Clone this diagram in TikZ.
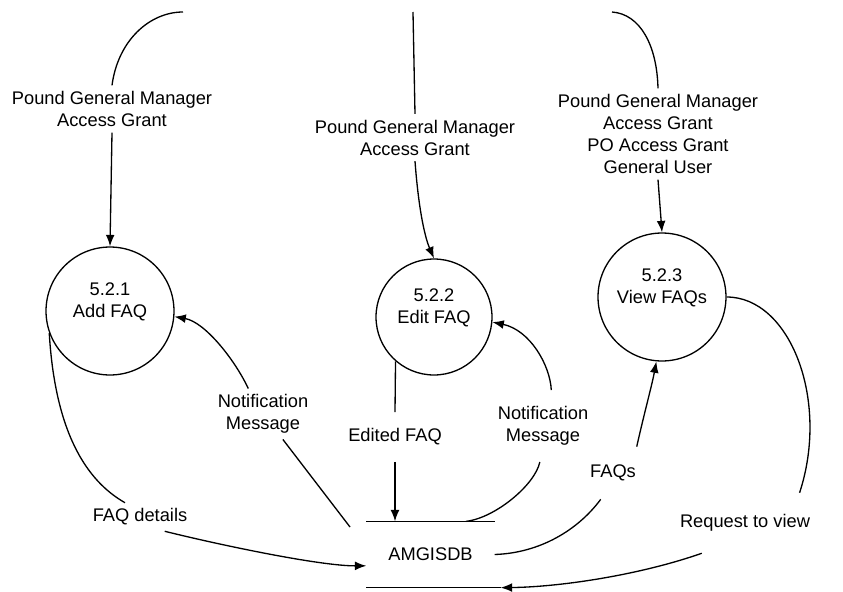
\documentclass[tikz,border=0pt]{standalone}
\usepackage{fontspec}
\setmainfont{Liberation Sans}
\usepackage{tikz}
\usetikzlibrary{arrows.meta}

\begin{document}
\begin{tikzpicture}
  [x=0.02cm,y=-0.02cm,
   line width=0.75pt,
   >={Latex[length=6.5pt,width=5pt]},
   every node/.style={font=\fontsize{10.4pt}{12.5pt}\selectfont},
   process/.style={circle,
                   draw=black,
                   inner sep=0pt,
                   align=center},
   flow/.style={align=center,
                inner sep=3pt},
   store/.style={rectangle,
                 minimum width=2.54cm,
                 minimum height=1.3cm,
                 inner sep=0pt}]
  \useasboundingbox (0,0) rectangle (843,592);

  % processes and data store
  \node[process,minimum size=2.56cm] (p1) at (110,311) {5.2.1\\Add FAQ\\~};
  \node[process,minimum size=2.32cm] (p2) at (434,317) {5.2.2\\Edit FAQ\\~};
  \node[process,minimum size=2.56cm] (p3) at (662,297) {5.2.3\\View FAQs\\~};
  \node[store] (db) at (430.5,554.5) {AMGISDB};
  \draw (db.north west) -- (db.north east);
  \draw (db.south west) -- ([xshift=0.12cm]db.south east);

  % flow labels
  \node[flow] (l1) at (112,109) {Pound General Manager\\Access Grant};
  \node[flow] (l2) at (415,137.5) {Pound General Manager\\Access Grant};
  \node[flow] (l3) at (658,134) {Pound General Manager\\Access Grant\\PO Access Grant\\General User};
  \node[flow] (lfd) at (140,517) {FAQ details};
  \node[flow] (ln1) at (263,414) {Notification\\Message};
  \node[flow,inner sep=9pt] (led) at (395,437) {Edited FAQ};
  \node[flow,inner sep=9pt] (ln2) at (543,426) {Notification\\Message};
  \node[flow,inner sep=10pt] (lfq) at (613,473) {FAQs};
  \node[flow,inner sep=12pt] (lrv) at (745,523) {Request to view};

  % free ends
  \coordinate (in1) at (183,12);
  \coordinate (in2) at (413,12);
  \coordinate (in3) at (612,12);
  \coordinate (n1end) at (350,527);

  % incoming grants
  \draw (in1) .. controls (150,12) and (118,40) .. (l1.north);
  \draw[->] (l1.south) -- (p1.north);
  \draw (in2) -- (l2.north);
  \draw[->] (l2.south) .. controls (419,215) and (426,240) .. (p2.north);
  \draw (in3) .. controls (640,14) and (657,45) .. (l3.north);
  \draw[->] (l3.south) -- (p3.north);

  % add FAQ
  \draw (p1.200) .. controls (55,430) and (85,480) .. ([xshift=-0.3cm]lfd.north);
  \draw[->] (lfd.-30) .. controls (220,545) and (320,566) .. (db.190);
  \draw (n1end) -- (ln1.-52);
  \draw[->] (ln1.120) .. controls (235,360) and (205,322) .. (p1.-5);

  % edit FAQ
  \draw (p2.229) -- (led.north);
  \draw[->] (led.south) -- (led.south |- db.north);
  \draw (db.43) .. controls (495,518) and (535,485) .. (ln2.-95);
  \draw[->] (ln2.77) .. controls (550,365) and (530,330) .. (p2.-5);

  % view FAQs
  \draw (db.east) .. controls (540,553) and (578,530) .. (lfq.-115);
  \draw[->] (lfq.48) .. controls (645,410) and (652,385) .. (p3.-95);
  \draw (p3.east) .. controls (790,297) and (830,400) .. (lrv.29);
  \draw[->] (lrv.215) .. controls (640,575) and (560,587) .. ([xshift=0.12cm]db.south east);
\end{tikzpicture}
\end{document}
